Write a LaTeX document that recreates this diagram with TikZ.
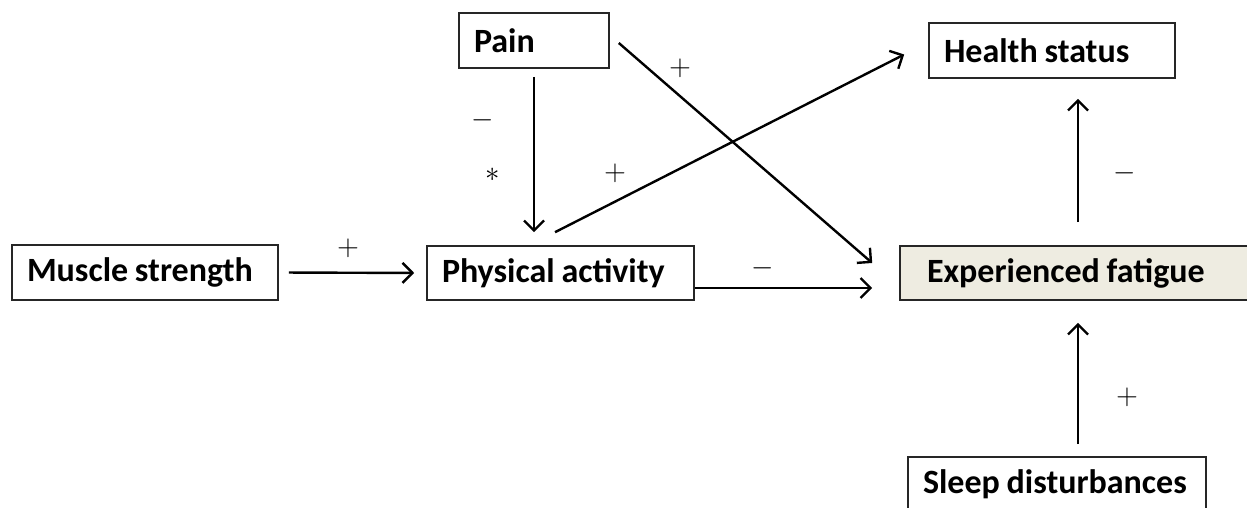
\documentclass[tikz,border=0pt]{standalone}
\usepackage{fontspec}
\setmainfont{Carlito}
\usepackage{tikz}
\usetikzlibrary{arrows.meta}
\definecolor{fatiguefill}{HTML}{EEECE1}
\tikzstyle{box}=[draw=black!85, line width=0.8pt, rectangle, minimum height=27.5pt, inner xsep=7.5pt, align=left, font=\bfseries\fontsize{17}{20}\selectfont, execute at begin node={\spaceskip=0.2em\relax}]
\tikzstyle{arr}=[-{Straight Barb[length=5pt,width=10pt]}, line width=1.2pt]
\tikzstyle{sign}=[inner sep=0pt, font=\fontsize{15}{18}\selectfont]

\begin{document}
\begin{tikzpicture}[x=0.5pt, y=-0.5pt]

    \useasboundingbox (0,0) rectangle (1247,508);
    \clip (0,0) rectangle (1247,508);

    %boxes
    \node [box, text width=118pt] (muscle) at (145,272.5) {Muscle strength};
    \node [box, text width=118.5pt, minimum height=27pt] (phys) at (560.5,273) {Physical activity};
    \node [box, text width=60pt] (pain) at (534,40.5) {Pain};
    \node [box, text width=108pt] (health) at (1052,50.5) {Health status};
    \node [box, fill=fatiguefill, inner xsep=13.5pt, text width=151pt, minimum height=27pt] (fatigue) at (1078,273) {Experienced fatigue};
    \node [box, text width=134pt] (sleep) at (1057,484.5) {Sleep disturbances};

    %arrows
    \draw [arr, shorten <=5pt, shorten >=6pt] (muscle.east) -- (phys.west);
    \draw [arr, shorten <=4pt, shorten >=6.5pt] (pain.south) -- (pain.south |- phys.north);
    \draw [arr] ([xshift=-2.75pt,yshift=6.5pt]phys.north) -- ([xshift=-12pt,yshift=-2pt]health.west);
    \draw [arr] ([xshift=4.5pt,yshift=-1.25pt]pain.east) -- ([xshift=-13.5pt,yshift=5pt]fatigue.west);
    \draw [arr] ([yshift=-7.5pt]phys.east) -- ([xshift=-13.5pt,yshift=-7.5pt]fatigue.west);
    \draw [arr, shorten <=11.5pt, shorten >=10pt] (fatigue.north) -- (fatigue.north |- health.south);
    \draw [arr, shorten <=6pt, shorten >=11pt] (fatigue.south |- sleep.north) -- (fatigue.south);

    %signs
    \foreach \x/\y/\s/\n in {348/248/+/ms, 483/120/-/pp, 615/173/+/ph, 680/68/+/pf, 763/268/-/pfa, 1125/173/-/fh, 1127/397/+/sf} {
    \node [sign] (\n) at (\x,\y) {$\s$};
    }
    \node [sign] (star) at (493,175) {$\ast$};

\end{tikzpicture}
\end{document}
